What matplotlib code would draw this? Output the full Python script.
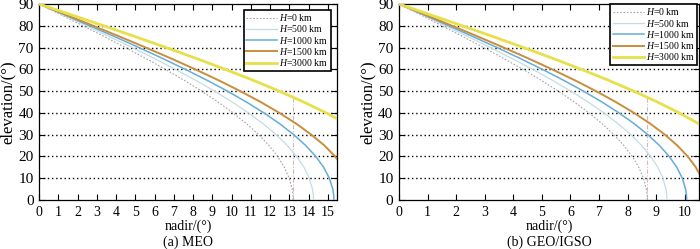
import matplotlib
matplotlib.use("Agg")
import matplotlib.pyplot as plt
from matplotlib.ticker import MultipleLocator

plt.rcParams['font.family'] = ['Liberation Serif', 'DejaVu Serif']
plt.rcParams['mathtext.fontset'] = 'custom'
plt.rcParams['mathtext.it'] = 'Liberation Serif:italic'
plt.rcParams['mathtext.rm'] = 'Liberation Serif'

# elevation grid (deg)
elev = [0, 2, 5, 10, 15, 20, 25, 30, 35, 40, 45, 50, 55, 60, 65, 70, 75, 80, 85, 90]
elev_from10 = elev[3:]
elev_from30 = elev[7:]

heights = ["0", "500", "1000", "1500", "3000"]

# MEO nadir angles (deg)
meo_h0 = [13.200, 13.192, 13.149, 12.996, 12.743, 12.391, 11.944, 11.407, 10.781, 10.075,
          9.293, 8.441, 7.526, 6.556, 5.538, 4.479, 3.388, 2.272, 1.141, 0.0]
meo_h500 = [14.257, 14.249, 14.202, 14.036, 13.762, 13.381, 12.897, 12.315, 11.639, 10.875,
            10.029, 9.109, 8.121, 7.073, 5.974, 4.832, 3.654, 2.451, 1.230, 0.0]
meo_h1000 = [15.319, 15.310, 15.260, 15.081, 14.786, 14.375, 13.854, 13.227, 12.499, 11.677,
             10.767, 9.778, 8.716, 7.591, 6.411, 5.184, 3.921, 2.630, 1.320, 0.0]
meo_h1500 = [16.131, 15.814, 15.374, 14.826, 14.142, 13.362, 12.481, 11.508, 10.448, 9.313,
             8.110, 6.848, 5.537, 4.187, 2.808, 1.409, 0.0]
meo_h3000 = [16.911, 15.971, 14.911, 13.740, 12.469, 11.108, 9.668, 8.161, 6.597, 4.987,
             3.344, 1.678, 0.0]

# GEO/IGSO nadir angles (deg)
geo_h0 = [8.691, 8.685, 8.657, 8.558, 8.392, 8.163, 7.871, 7.519, 7.110, 6.647,
          6.133, 5.574, 4.972, 4.333, 3.661, 2.962, 2.241, 1.504, 0.755, 0.0]
geo_h500 = [9.379, 9.373, 9.343, 9.235, 9.056, 8.808, 8.493, 8.113, 7.671, 7.171,
            6.617, 6.013, 5.363, 4.674, 3.949, 3.195, 2.417, 1.622, 0.814, 0.0]
geo_h1000 = [10.068, 10.062, 10.030, 9.914, 9.722, 9.455, 9.116, 8.708, 8.233, 7.696,
             7.101, 6.452, 5.755, 5.015, 4.237, 3.428, 2.593, 1.740, 0.873, 0.0]
geo_h1500 = [10.594, 10.388, 10.103, 9.741, 9.304, 8.796, 8.222, 7.585, 6.892, 6.147,
             5.356, 4.525, 3.661, 2.769, 1.858, 0.932, 0.0]
geo_h3000 = [11.097, 10.490, 9.802, 9.042, 8.213, 7.324, 6.380, 5.390, 4.359, 3.298,
             2.212, 1.110, 0.0]

# marker line: max nadir at H=0 up to H=3000 curve
meo_vline = (13.2, 48.0)
geo_vline = (8.69, 47.5)

colors = ["#a8a4a8", "#c4dce6", "#66acd6", "#c98e3c", "#e6e04a"]
styles = [(0, (1.5, 1.5)), "-", "-", "-", "-"]
widths = [0.8, 0.9, 1.1, 1.4, 2.0]

panels = [
    dict(series=[(meo_h0, elev), (meo_h500, elev), (meo_h1000, elev),
                 (meo_h1500, elev_from10), (meo_h3000, elev_from30)],
         xlim=15.5, xticks=list(range(0, 16)), vline=meo_vline, title="(a) MEO",
         rect=[0.056, 0.197, 0.426, 0.787], leg_anchor=(0.977, 0.97)),
    dict(series=[(geo_h0, elev), (geo_h500, elev), (geo_h1000, elev),
                 (geo_h1500, elev_from10), (geo_h3000, elev_from30)],
         xlim=10.5, xticks=list(range(0, 11)), vline=geo_vline, title="(b) GEO/IGSO",
         rect=[0.570, 0.197, 0.4286, 0.787], leg_anchor=(0.994, 1.0)),
]

fig = plt.figure(figsize=(7.0, 2.49), dpi=100)
for p in panels:
    ax = fig.add_axes(p["rect"])
    for y in range(10, 90, 10):
        ax.axhline(y, color="black", lw=1.0, ls=(0, (1, 2)), zorder=1)
    vx, vy = p["vline"]
    ax.plot([vx, vx], [0, vy], color="#d4b8c0", lw=0.8, ls=(0, (4, 1.5, 1, 1.5)), zorder=2)
    for (xs, ys), h, c, s, w in zip(p["series"], heights, colors, styles, widths):
        ax.plot(xs, ys, color=c, ls=s, lw=w, label=r"$H$=" + h + " km", zorder=3)
    ax.set_xlim(0, p["xlim"])
    ax.set_ylim(0, 90)
    ax.set_xticks(p["xticks"])
    ax.yaxis.set_major_locator(MultipleLocator(10))
    ax.tick_params(direction="in", top=True, right=True, length=4, width=0.8)
    ax.tick_params(axis="x", labelsize=10, pad=4)
    ax.tick_params(axis="y", labelsize=11, pad=4)
    for sp in ax.spines.values():
        sp.set_linewidth(0.9)
    ax.set_xlabel("nadir/(°)", fontsize=10)
    ax.xaxis.set_label_coords(0.5, -0.10)
    ax.set_ylabel("elevation/(°)", fontsize=12)
    ax.yaxis.set_label_coords(-0.078, 0.5)
    ax.text(0.5, -0.218, p["title"], transform=ax.transAxes, ha="center", va="center", fontsize=10)
    leg = ax.legend(loc="upper right", bbox_to_anchor=p["leg_anchor"], fontsize=7,
                    frameon=True, fancybox=False, framealpha=1,
                    edgecolor="black", handlelength=3.2, handletextpad=0.2,
                    labelspacing=0.02, borderpad=0.25, borderaxespad=0.0)
    leg.get_frame().set_linewidth(1.2)

fig.savefig("out.png", dpi=100)
